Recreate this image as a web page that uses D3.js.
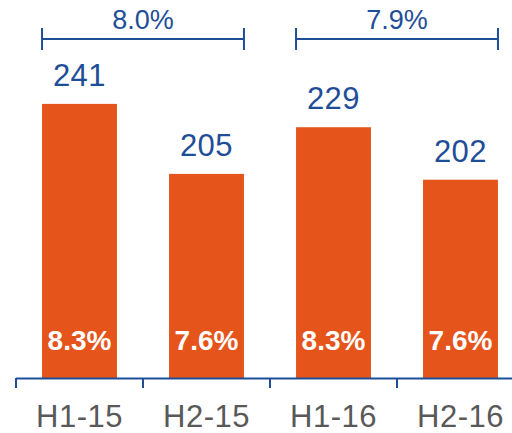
<!DOCTYPE html>
<html>
<head>
<meta charset="utf-8">
<script src="https://cdn.jsdelivr.net/npm/d3@7"></script>
<style>
  body { margin: 0; background: #fff; }
  svg { display: block; font-family: 'Liberation Sans', Arial, sans-serif; }
</style>
</head>
<body>
<svg width="512" height="433"></svg>
<script>
const periods = ['H1-15', 'H2-15', 'H1-16', 'H2-16'];
const values = [241, 205, 229, 202];
const margins = ['8.3%', '7.6%', '8.3%', '7.6%'];
const growthLabels = ['8.0%', '7.9%'];
const growthPairs = [['H1-15', 'H2-15'], ['H1-16', 'H2-16']];

const ORANGE = '#e5541b';
const BLUE = '#1f4e98';
const GREY = '#595959';

const svg = d3.select('svg');
const baseY = 378;

const x = d3.scaleBand()
  .domain(periods)
  .range([16, 16 + 4 * 127])
  .paddingInner(0.41)
  .paddingOuter(0.205);

const y = d3.scaleLinear()
  .domain([100, 250])
  .range([baseY, baseY - 150 * 1.944]);

const data = periods.map((p, i) => ({ period: p, value: values[i], margin: margins[i] }));

// bars
svg.selectAll('rect.bar')
  .data(data)
  .enter()
  .append('rect').attr('class', 'bar')
  .attr('x', d => x(d.period))
  .attr('y', d => y(d.value))
  .attr('width', x.bandwidth())
  .attr('height', d => baseY - y(d.value))
  .attr('fill', ORANGE);

// value labels
svg.selectAll('text.val')
  .data(data)
  .enter()
  .append('text').attr('class', 'val')
  .attr('x', d => x(d.period) + x.bandwidth() / 2)
  .attr('y', d => y(d.value) - 18)
  .attr('text-anchor', 'middle')
  .attr('font-size', 31)
  .attr('letter-spacing', 0.5)
  .attr('fill', BLUE)
  .text(d => d.value);

// margin labels inside bars
svg.selectAll('text.margin')
  .data(data)
  .enter()
  .append('text').attr('class', 'margin')
  .attr('x', d => x(d.period) + x.bandwidth() / 2)
  .attr('y', 350)
  .attr('text-anchor', 'middle')
  .attr('font-size', 28)
  .attr('font-weight', 'bold')
  .attr('fill', '#fff')
  .text(d => d.margin);

// x axis
const half = x.step() * x.paddingInner() / 2;
svg.append('line')
  .attr('x1', x.range()[0]).attr('x2', 512)
  .attr('y1', baseY + 0.5).attr('y2', baseY + 0.5)
  .attr('stroke', BLUE).attr('stroke-width', 2);

svg.selectAll('line.tick')
  .data(periods)
  .enter()
  .append('line').attr('class', 'tick')
  .attr('x1', d => Math.round(x(d) - half))
  .attr('x2', d => Math.round(x(d) - half))
  .attr('y1', baseY).attr('y2', baseY + 10)
  .attr('stroke', BLUE).attr('stroke-width', 2);

svg.selectAll('text.cat')
  .data(periods)
  .enter()
  .append('text').attr('class', 'cat')
  .attr('x', d => x(d) + x.bandwidth() / 2)
  .attr('y', 427)
  .attr('text-anchor', 'middle')
  .attr('font-size', 31)
  .attr('letter-spacing', 0.5)
  .attr('fill', GREY)
  .text(d => d);

// growth brackets
const brackets = svg.selectAll('g.bracket')
  .data(growthPairs.map((p, i) => ({ from: p[0], to: p[1], label: growthLabels[i] })))
  .enter()
  .append('g').attr('class', 'bracket');

const bY = 39;
brackets.append('line')
  .attr('x1', d => x(d.from)).attr('x2', d => x(d.to) + x.bandwidth())
  .attr('y1', bY).attr('y2', bY)
  .attr('stroke', BLUE).attr('stroke-width', 2);
brackets.append('line')
  .attr('x1', d => x(d.from)).attr('x2', d => x(d.from))
  .attr('y1', bY - 11).attr('y2', bY + 11)
  .attr('stroke', BLUE).attr('stroke-width', 2);
brackets.append('line')
  .attr('x1', d => x(d.to) + x.bandwidth()).attr('x2', d => x(d.to) + x.bandwidth())
  .attr('y1', bY - 11).attr('y2', bY + 11)
  .attr('stroke', BLUE).attr('stroke-width', 2);
brackets.append('text')
  .attr('x', d => (x(d.from) + x(d.to) + x.bandwidth()) / 2)
  .attr('y', 29)
  .attr('text-anchor', 'middle')
  .attr('font-size', 27)
  .attr('fill', BLUE)
  .text(d => d.label);
</script>
</body>
</html>
